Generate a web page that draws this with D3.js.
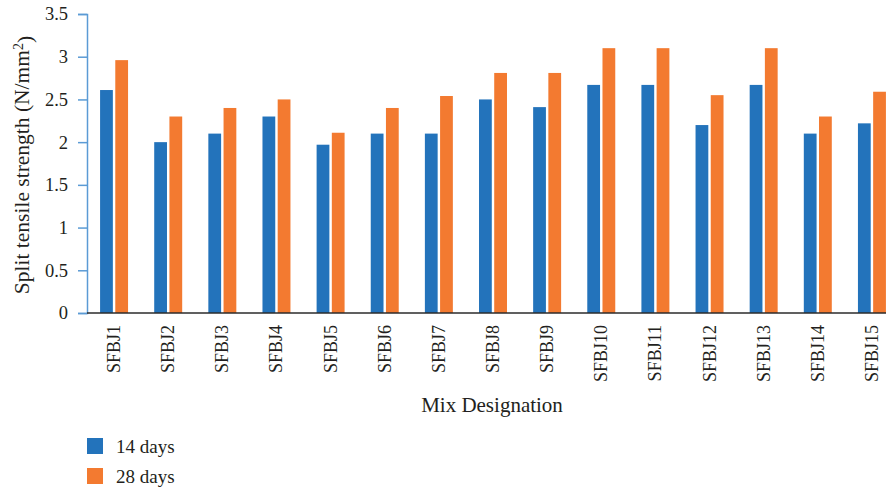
<!DOCTYPE html>
<html>
<head>
<meta charset="utf-8">
<script src="https://cdn.jsdelivr.net/npm/d3@7"></script>
<style>
  html, body { margin: 0; padding: 0; background: #fff; }
  svg { display: block; }
  text { font-family: "Liberation Serif", "Times New Roman", serif; fill: #231f20; }
</style>
</head>
<body>
<svg id="chart" width="886" height="490"></svg>
<script>
// Mix designations and split tensile strength (N/mm²) at two curing ages
const categories = ["SFBJ1","SFBJ2","SFBJ3","SFBJ4","SFBJ5","SFBJ6","SFBJ7","SFBJ8","SFBJ9","SFBJ10","SFBJ11","SFBJ12","SFBJ13","SFBJ14","SFBJ15"];
const seriesNames = ["14 days", "28 days"];
const days14 = [2.61, 2.00, 2.10, 2.30, 1.97, 2.10, 2.10, 2.50, 2.41, 2.67, 2.67, 2.20, 2.67, 2.10, 2.22];
const days28 = [2.96, 2.30, 2.40, 2.50, 2.11, 2.40, 2.54, 2.81, 2.81, 3.10, 3.10, 2.55, 3.10, 2.30, 2.59];
const yTicks = [0, 0.5, 1, 1.5, 2, 2.5, 3, 3.5];
const colors = ["#2373bb", "#f37a30"];

const svg = d3.select("#chart");

const x = d3.scaleBand().domain(categories).range([87, 899]).paddingInner(0).paddingOuter(0);
const xs = d3.scaleBand().domain(seriesNames).range([0, x.bandwidth()]).paddingInner(0.16).paddingOuter(0.86);
const y = d3.scaleLinear().domain([0, 3.5]).range([313, 14]);

const rows = categories.map((c, i) => ({ cat: c, values: [days14[i], days28[i]] }));

// Bars
const groups = svg.append("g").selectAll("g").data(rows).join("g")
  .attr("transform", d => `translate(${x(d.cat)},0)`);
groups.selectAll("rect")
  .data(d => d.values.map((v, j) => ({ name: seriesNames[j], v, j })))
  .join("rect")
  .attr("x", d => xs(d.name))
  .attr("width", xs.bandwidth())
  .attr("y", d => y(d.v))
  .attr("height", d => y(0) - y(d.v))
  .attr("fill", d => colors[d.j]);

// Y axis
const yAxis = d3.axisLeft(y).tickValues(yTicks).tickSize(9).tickPadding(10)
  .tickFormat(d => d3.format("")(d));
const gy = svg.append("g").attr("transform", "translate(87,0)").call(yAxis);
gy.select(".domain").attr("stroke", "#5b9bd5").attr("stroke-width", 1.5);
gy.selectAll(".tick line").attr("stroke", "#5b9bd5").attr("stroke-width", 1.5);
gy.selectAll(".tick text")
  .style("font-family", "Liberation Serif, serif")
  .style("font-size", "18.5px").attr("fill", "#231f20");

// Baseline
svg.append("line")
  .attr("x1", 87).attr("x2", 886)
  .attr("y1", y(0)).attr("y2", y(0))
  .attr("stroke", "#2b2b2b").attr("stroke-width", 1.6);

// X category labels (rotated)
svg.append("g").selectAll("text").data(categories).join("text")
  .attr("transform", d => `translate(${x(d) + x.bandwidth() / 2 + 6},325) rotate(-90)`)
  .attr("text-anchor", "end")
  .style("font-size", "18px")
  .text(d => d);

// Axis titles
svg.append("text")
  .attr("x", 492).attr("y", 412)
  .attr("text-anchor", "middle")
  .style("font-size", "21px")
  .text("Mix Designation");

const yTitle = svg.append("text")
  .attr("transform", "translate(29,165) rotate(-90)")
  .attr("text-anchor", "middle")
  .style("font-size", "21.5px");
yTitle.append("tspan").text("Split tensile strength (N/mm");
yTitle.append("tspan").attr("dy", "-0.45em").style("font-size", "14px").text("2");
yTitle.append("tspan").attr("dy", "0.45em").text(")");

// Legend
const legend = svg.append("g").selectAll("g").data(seriesNames).join("g")
  .attr("transform", (d, i) => `translate(87,${438 + i * 30})`);
legend.append("rect").attr("width", 16).attr("height", 16).attr("fill", (d, i) => colors[i]);
legend.append("text").attr("x", 29).attr("y", 15).style("font-size", "19px").text(d => d);
</script>
</body>
</html>
